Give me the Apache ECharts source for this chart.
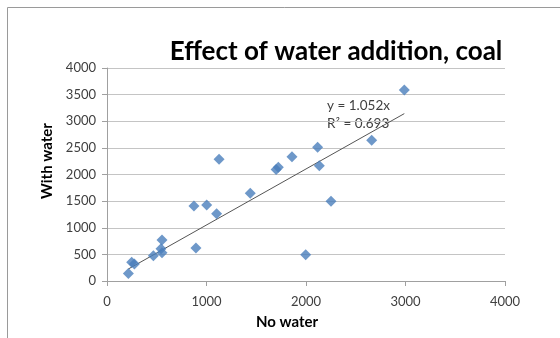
<!DOCTYPE html>
<html>
<head>
<meta charset="utf-8">
<script src="https://cdn.jsdelivr.net/npm/echarts@6/dist/echarts.min.js"></script>
<style>
  html, body { margin: 0; padding: 0; background: #fff; }
  #chart { width: 560px; height: 338px; }
</style>
</head>
<body>
<div id="chart"></div>
<script>
// 数据：无水 / 加水
var noWater = [215, 248, 275, 466, 553, 543, 553, 874, 894, 1002, 1102, 1126, 1440, 1700, 1722, 1859, 2117, 2134, 2251, 1997, 2660, 2988];
var withWater = [140, 351, 319, 475, 770, 607, 531, 1408, 620, 1427, 1264, 2285, 1647, 2095, 2135, 2334, 2511, 2165, 1497, 494, 2642, 3587];
var slope = 1.052;
var rSquared = 0.693;
var xTicks = [0, 1000, 2000, 3000, 4000];
var yTicks = [0, 500, 1000, 1500, 2000, 2500, 3000, 3500, 4000];

var points = noWater.map(function (x, i) { return [x, withWater[i]]; });
var xMin = Math.min.apply(null, noWater);
var xMax = Math.max.apply(null, noWater);
var trend = [[xMin, slope * xMin], [xMax, slope * xMax]];

var font = 'Lato, "Open Sans", sans-serif';
var plain = function (v) { return String(v); };

var chart = echarts.init(document.getElementById('chart'));

var option = {
    backgroundColor: '#fff',
    animation: false,
    title: {
        text: 'Effect of water addition, coal',
        left: 331,
        top: 34,
        textAlign: 'center',
        textStyle: { fontFamily: font, fontSize: 26, fontWeight: 'bold', color: '#000' }
    },
    grid: { left: 107, right: 55, top: 68, bottom: 57 },
    xAxis: {
        type: 'value',
        min: xTicks[0], max: xTicks[xTicks.length - 1], interval: xTicks[1] - xTicks[0],
        axisLine: { show: true, lineStyle: { color: '#a0a0a0' } },
        axisTick: { show: true, inside: false, length: 5, lineStyle: { color: '#a0a0a0' } },
        axisLabel: { fontFamily: font, fontSize: 13, color: '#404040', margin: 14, formatter: plain },
        splitLine: { show: false }
    },
    yAxis: {
        type: 'value',
        min: yTicks[0], max: yTicks[yTicks.length - 1], interval: yTicks[1] - yTicks[0],
        axisLine: { show: true, lineStyle: { color: '#a0a0a0' } },
        axisTick: { show: true, length: 5, lineStyle: { color: '#a0a0a0' } },
        axisLabel: { fontFamily: font, fontSize: 13, color: '#404040', margin: 11, formatter: plain },
        splitLine: { show: true, lineStyle: { color: '#c4c4c4', width: 1 } }
    },
    graphic: [
        { type: 'rect', shape: { x: 7.5, y: 7.5, width: 600, height: 400 }, style: { fill: 'none', stroke: '#9a9a9a', lineWidth: 1 }, z: -1 },
        { type: 'text', x: 287, y: 322, style: { text: 'No water', fontFamily: font, fontSize: 15, fontWeight: 'bold', fill: '#000', align: 'center', verticalAlign: 'middle' } },
        { type: 'text', x: 47, y: 161, rotation: Math.PI / 2, style: { text: 'With water', fontFamily: font, fontSize: 15, fontWeight: 'bold', fill: '#000', align: 'center', verticalAlign: 'middle' } },
        { type: 'text', x: 327, y: 106, style: { text: 'y = ' + slope + 'x', fontFamily: font, fontSize: 13.5, fill: '#404040', verticalAlign: 'middle' } },
        { type: 'text', x: 327, y: 124, style: { text: 'R² = ' + rSquared, fontFamily: font, fontSize: 13.5, fill: '#404040', verticalAlign: 'middle' } }
    ],
    series: [
        {
            name: 'With water',
            type: 'scatter',
            data: points,
            symbol: 'diamond',
            symbolSize: 11,
            itemStyle: { color: '#4a7ebb' },
            z: 3
        },
        {
            name: 'Trend',
            type: 'line',
            data: trend,
            symbol: 'none',
            lineStyle: { color: '#555', width: 1 },
            z: 2
        }
    ]
};

chart.setOption(option);
</script>
</body>
</html>
